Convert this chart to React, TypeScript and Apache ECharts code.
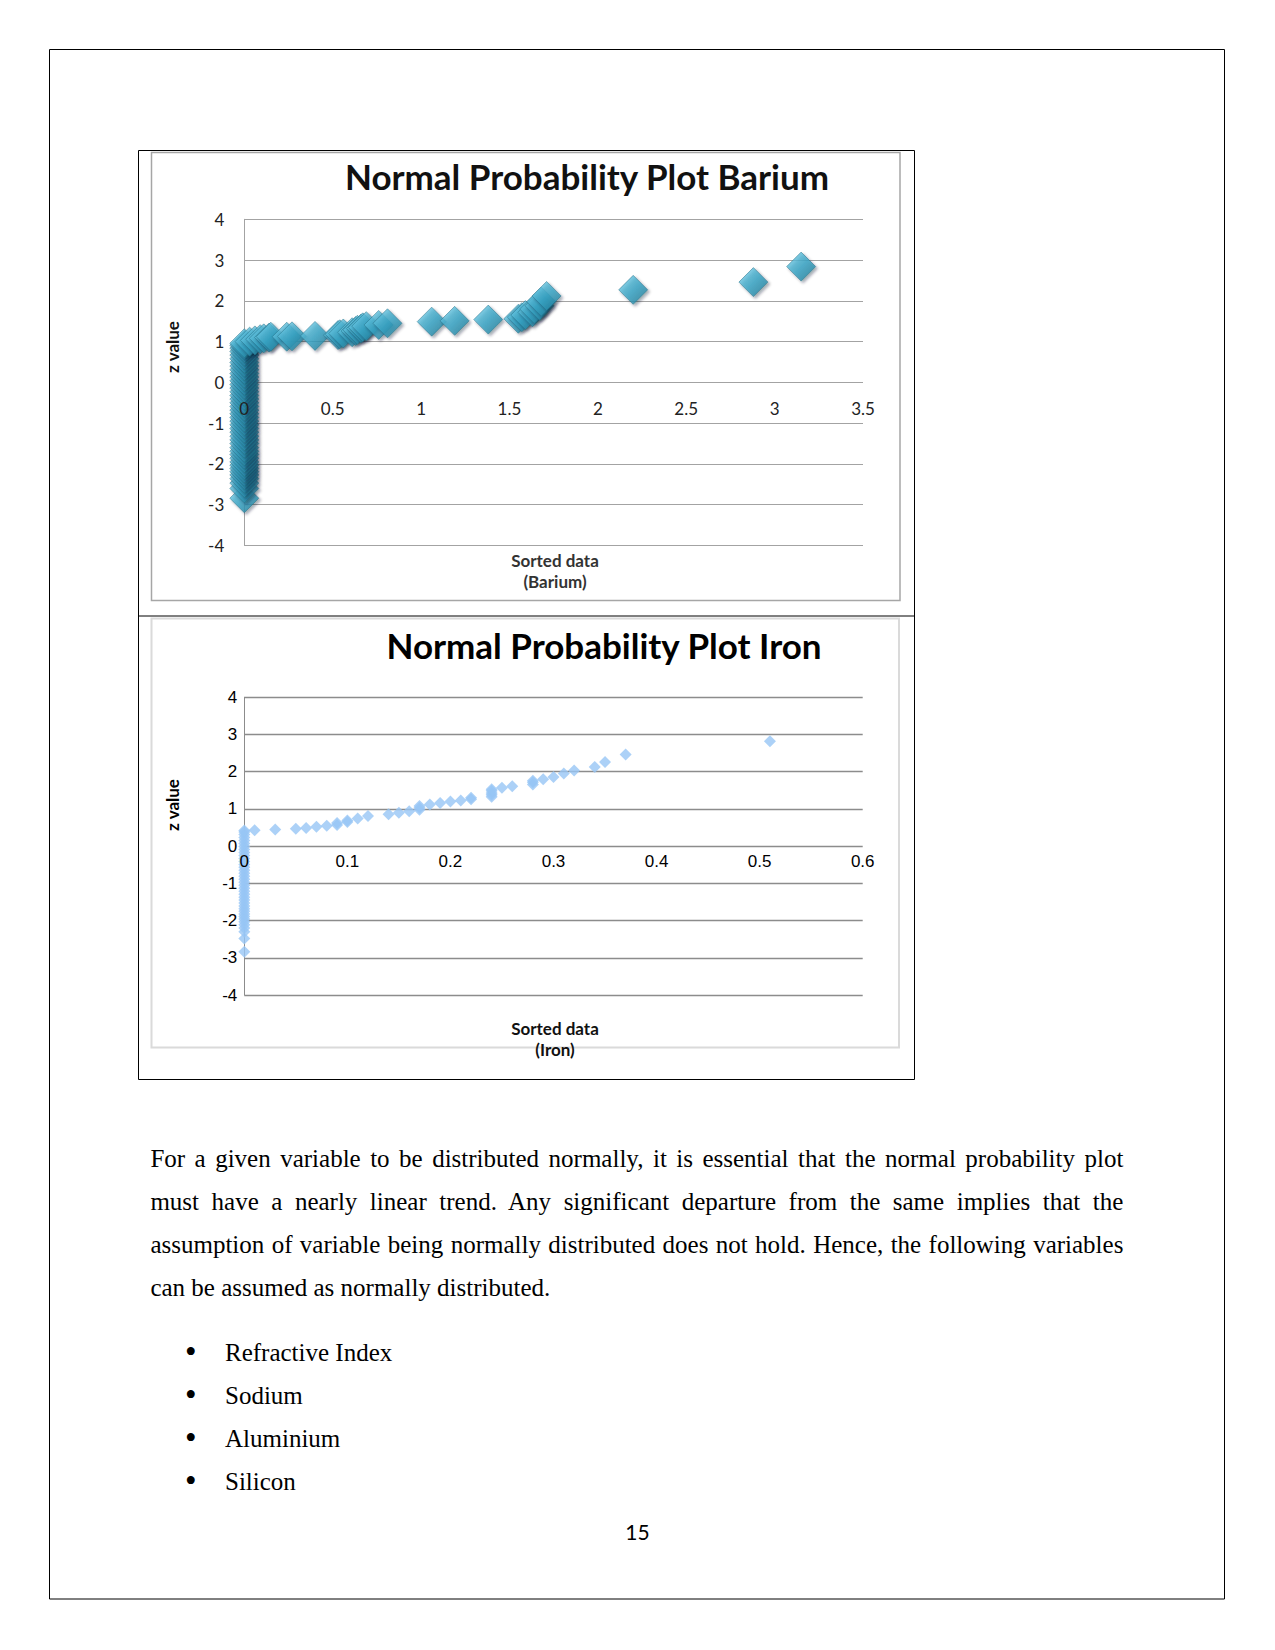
import React, { useEffect, useRef } from "react";
import * as echarts from "echarts";

// ---- Barium: sorted data vs z value ----
const bariumZeroZ = [
  -2.84, -2.6, -2.47, -2.36, -2.27, -2.19, -2.11, -2.03, -1.95, -1.86, -1.77, -1.69, -1.6, -1.5,
  -1.41, -1.32, -1.22, -1.13, -1.04, -0.95, -0.86, -0.77, -0.68, -0.59, -0.5, -0.41, -0.32, -0.23,
  -0.14, -0.05, 0.04, 0.13, 0.22, 0.31, 0.4, 0.49, 0.58, 0.67, 0.76, 0.84, 0.91, 0.96,
];
const bariumX = [
  0.03, 0.06, 0.09, 0.11, 0.14, 0.15, 0.24, 0.27, 0.4, 0.53, 0.54, 0.56, 0.61, 0.63, 0.64, 0.66,
  0.67, 0.69, 0.76, 0.81, 1.06, 1.19, 1.38, 1.55, 1.57, 1.59, 1.63, 1.64, 1.67, 1.68, 1.71, 2.2,
  2.88, 3.15,
];
const bariumZ = [
  1.0, 1.03, 1.06, 1.08, 1.1, 1.12, 1.12, 1.13, 1.14, 1.16, 1.18, 1.2, 1.23, 1.26, 1.29, 1.32, 1.35,
  1.38, 1.41, 1.45, 1.49, 1.51, 1.54, 1.56, 1.6, 1.65, 1.72, 1.8, 1.88, 1.98, 2.12, 2.27, 2.46, 2.84,
];

// ---- Iron: sorted data vs z value ----
const ironZeroZ = [
  -2.84, -2.48, -2.3, -2.2, -2.11, -2.03, -1.96, -1.89, -1.82, -1.75, -1.68, -1.61, -1.53, -1.45,
  -1.37, -1.29, -1.21, -1.13, -1.05, -0.97, -0.89, -0.81, -0.73, -0.65, -0.57, -0.49, -0.41, -0.33,
  -0.25, -0.17, -0.09, -0.01, 0.07, 0.15, 0.23, 0.31, 0.38, 0.42,
];
const ironX = [
  0.01, 0.03, 0.05, 0.06, 0.07, 0.08, 0.09, 0.09, 0.1, 0.1, 0.11, 0.12, 0.14, 0.15, 0.16, 0.17,
  0.17, 0.17, 0.18, 0.19, 0.2, 0.21, 0.22, 0.22, 0.24, 0.24, 0.24, 0.24, 0.24, 0.25, 0.26, 0.28,
  0.28, 0.28, 0.29, 0.3, 0.31, 0.32, 0.34, 0.35, 0.37, 0.51,
];
const ironZ = [
  0.43, 0.45, 0.47, 0.49, 0.52, 0.55, 0.57, 0.62, 0.65, 0.69, 0.74, 0.81, 0.86, 0.9, 0.94, 0.98,
  1.03, 1.08, 1.12, 1.16, 1.2, 1.23, 1.26, 1.3, 1.33, 1.38, 1.43, 1.49, 1.53, 1.57, 1.61, 1.66,
  1.72, 1.76, 1.8, 1.86, 1.95, 2.03, 2.13, 2.26, 2.46, 2.82,
];

const titles = ["Normal Probability Plot Barium", "Normal Probability Plot Iron"];
const yAxisName = "z value";
const xAxisNames = ["Sorted data\n(Barium)", "Sorted data\n(Iron)"];

const paragraphLines = [
  "For a given variable to be distributed normally, it is essential that the normal probability plot",
  "must have a nearly linear trend. Any significant departure from the same implies that the",
  "assumption of variable being normally distributed does not hold. Hence, the following variables",
  "can be assumed as normally distributed.",
];
const bullets = ["Refractive Index", "Sodium", "Aluminium", "Silicon"];
const pageNumber = "15";

const bariumData = bariumZeroZ
  .map((z) => [0, z])
  .concat(bariumX.map((x, i) => [x, bariumZ[i]]));
const ironData = ironZeroZ.map((z) => [0, z]).concat(ironX.map((x, i) => [x, ironZ[i]]));

// plot-area geometry (pixels)
const G1 = { left: 244.3, top: 219.3, width: 618.7, height: 326.2 };
const G2 = { left: 244.3, top: 697.3, width: 618.4, height: 297.7 };

function App() {
  const ref = useRef<HTMLDivElement>(null);

  useEffect(() => {
    if (!ref.current) return;
    const chart = echarts.init(ref.current, undefined, { renderer: "svg" });
    const bGrid = "#A3A3A3";
    const iGrid = "#8C8C8C";
    const text = (x: number, y: number, t: string, size: number, fill: string, rot = 0, family = "Lato", weight: any = "bold") => ({
      type: "text",
      x,
      y,
      rotation: rot,
      silent: true,
      style: {
        text: t,
        fill,
        fontSize: size,
        fontWeight: weight,
        fontFamily: family,
        align: "center",
        verticalAlign: "middle",
        lineHeight: size + 4,
      },
    });
    const option: any = {
      animation: false,
      grid: [G1, G2],
      xAxis: [
        {
          type: "value",
          gridIndex: 0,
          min: 0,
          max: 3.5,
          interval: 0.5,
          position: "bottom",
          offset: -G1.height / 2,
          z: 10,
          axisLine: { show: false, onZero: false },
          axisTick: { show: false },
          splitLine: { show: false },
          axisLabel: { margin: 18, fontSize: 17, fontFamily: "Lato", color: "#222", showMinLabel: true, showMaxLabel: true },
        },
        {
          type: "value",
          gridIndex: 1,
          min: 0,
          max: 0.6,
          interval: 0.1,
          position: "bottom",
          offset: -G2.height / 2,
          z: 10,
          axisLine: { show: false, onZero: false },
          axisTick: { show: false },
          splitLine: { show: false },
          axisLabel: { margin: 7, fontSize: 17, fontFamily: "Liberation Sans", color: "#000", showMinLabel: true, showMaxLabel: true },
        },
      ],
      yAxis: [
        {
          type: "value",
          gridIndex: 0,
          min: -4,
          max: 4,
          interval: 1,
          axisLine: { show: true, onZero: false, lineStyle: { color: bGrid, width: 1 } },
          axisTick: { show: false },
          splitLine: { show: true, lineStyle: { color: bGrid, width: 1 } },
          axisLabel: { margin: 20, fontSize: 17, fontFamily: "Lato", color: "#222" },
        },
        {
          type: "value",
          gridIndex: 1,
          min: -4,
          max: 4,
          interval: 1,
          axisLine: { show: true, onZero: false, lineStyle: { color: iGrid, width: 1 } },
          axisTick: { show: false },
          splitLine: { show: true, lineStyle: { color: iGrid, width: 1.3 } },
          axisLabel: { margin: 7, fontSize: 17, fontFamily: "Liberation Sans", color: "#000" },
        },
      ],
      series: [
        {
          type: "scatter",
          xAxisIndex: 0,
          yAxisIndex: 0,
          data: bariumData,
          symbol: "diamond",
          symbolSize: 29,
          clip: false,
          itemStyle: {
            color: new echarts.graphic.LinearGradient(0, 0, 1, 1, [
              { offset: 0, color: "#7FD4EC" },
              { offset: 0.5, color: "#3AA6C7" },
              { offset: 1, color: "#1C7793" },
            ]),
            borderColor: "#226B82",
            borderWidth: 0.6,
            shadowColor: "rgba(0,30,45,0.45)",
            shadowBlur: 3,
            shadowOffsetX: 2,
            shadowOffsetY: 2,
          },
          z: 3,
        },
        {
          type: "scatter",
          xAxisIndex: 1,
          yAxisIndex: 1,
          data: ironData,
          symbol: "diamond",
          symbolSize: 12,
          clip: false,
          itemStyle: { color: "#97C5F5" },
          z: 3,
        },
      ],
      graphic: [
        // page border
        { type: "rect", silent: true, z: -10, shape: { x: 49.5, y: 49.5, width: 1175, height: 1549.5 }, style: { fill: "none", stroke: "#000", lineWidth: 1 } },
        // chart box
        { type: "rect", silent: true, z: -10, shape: { x: 138.5, y: 150.5, width: 776, height: 929 }, style: { fill: "none", stroke: "#000", lineWidth: 1 } },
        { type: "line", silent: true, z: -10, shape: { x1: 138.5, y1: 616, x2: 914.5, y2: 616 }, style: { stroke: "#000", lineWidth: 1 } },
        // inner chart frames
        { type: "rect", silent: true, z: -10, shape: { x: 151.5, y: 152.5, width: 748.5, height: 448 }, style: { fill: "none", stroke: "#A6A6A6", lineWidth: 1.5 } },
        { type: "rect", silent: true, z: -10, shape: { x: 151.5, y: 618.5, width: 747.5, height: 429 }, style: { fill: "none", stroke: "#DADADA", lineWidth: 2 } },
        text(587, 176, titles[0], 35, "#111"),
        text(604, 645, titles[1], 35, "#000"),
        text(172, 347, yAxisName, 17, "#111", Math.PI / 2),
        text(172, 805, yAxisName, 17, "#000", Math.PI / 2),
        text(555, 571, xAxisNames[0], 17, "#333"),
        text(555, 1039, xAxisNames[1], 17, "#111"),
      ],
    };
    chart.setOption(option);
    return () => chart.dispose();
  }, []);

  const serif = '"Liberation Serif", "Times New Roman", serif';
  const paraTop = 1137;
  const lineH = 43.1;
  return (
    <div style={{ position: "absolute", left: 0, top: 0, width: 1275, height: 1650, background: "#fff" }}>
      <div ref={ref} style={{ position: "absolute", left: 0, top: 0, width: 1275, height: 1650 }} />
      {paragraphLines.map((l, i) => (
        <div
          key={i}
          style={{
            position: "absolute",
            left: 150.4,
            top: paraTop + i * lineH,
            width: 973,
            height: lineH,
            lineHeight: lineH + "px",
            fontFamily: serif,
            fontSize: 25,
            color: "#000",
            whiteSpace: "nowrap",
            textAlign: i < paragraphLines.length - 1 ? "justify" : "left",
            textAlignLast: i < paragraphLines.length - 1 ? "justify" : "left",
          }}
        >
          {l}
        </div>
      ))}
      {bullets.map((b, i) => (
        <React.Fragment key={b}>
          <div
            style={{
              position: "absolute",
              left: 185,
              top: 1330.5 + i * lineH,
              height: lineH,
              lineHeight: lineH + "px",
              fontFamily: serif,
              fontSize: 33,
              color: "#000",
            }}
          >
            •
          </div>
          <div
            style={{
              position: "absolute",
              left: 225,
              top: 1330.5 + i * lineH,
              height: lineH,
              lineHeight: lineH + "px",
              fontFamily: serif,
              fontSize: 25,
              color: "#000",
              whiteSpace: "nowrap",
            }}
          >
            {b}
          </div>
        </React.Fragment>
      ))}
      <div
        style={{
          position: "absolute",
          left: 587.5,
          width: 100,
          top: 1518,
          textAlign: "center",
          fontFamily: "Lato",
          fontSize: 21,
          lineHeight: "28px",
          color: "#000",
        }}
      >
        {pageNumber}
      </div>
    </div>
  );
}

export default App;
